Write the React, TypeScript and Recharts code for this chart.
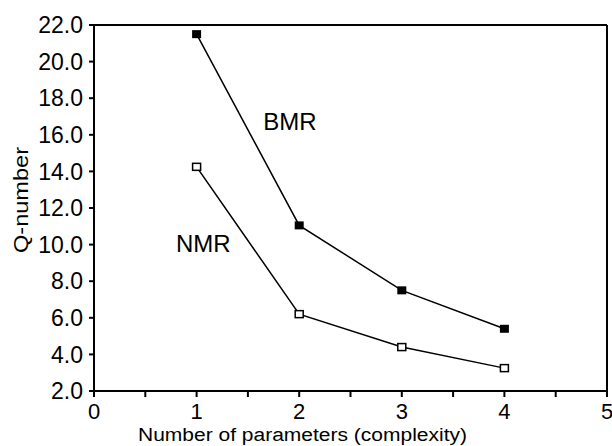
import { LineChart, Line, XAxis, YAxis, ReferenceLine, ReferenceDot } from "recharts";

const params = [1, 2, 3, 4];
const bmr = [21.5, 11.05, 7.5, 5.4];
const nmr = [14.25, 6.2, 4.4, 3.25];
const xTicks = [0, 0.5, 1, 1.5, 2, 2.5, 3, 3.5, 4, 4.5, 5];
const yTicks = [2, 4, 6, 8, 10, 12, 14, 16, 18, 20, 22];
const notes = [
  { name: "BMR", x: 1.91, y: 16.75 },
  { name: "NMR", x: 1.065, y: 10.05 },
];

const data = params.map((p, i) => ({ p, bmr: bmr[i], nmr: nmr[i] }));
const font = "'Liberation Sans', Arial, sans-serif";

const FilledSquare = (props: any) => {
  const { cx, cy } = props;
  if (cx == null || cy == null) return null;
  return <rect x={cx - 4.5} y={cy - 4} width={9} height={8} fill="#000" />;
};

const HollowSquare = (props: any) => {
  const { cx, cy } = props;
  if (cx == null || cy == null) return null;
  return <rect x={cx - 4} y={cy - 3.5} width={8} height={7} fill="#fff" stroke="#000" strokeWidth={1.5} />;
};

export default function App() {
  return (
    <div style={{ position: "absolute", left: 0, top: 0, background: "#fff" }}>
      <LineChart width={612} height={446} data={data} margin={{ top: 25, right: 5, left: 0, bottom: 0 }}>
        <XAxis
          dataKey="p"
          type="number"
          domain={[0, 5]}
          ticks={xTicks}
          interval={0}
          tickFormatter={(v) => (v % 1 === 0 ? String(v) : "")}
          height={55}
          tickSize={6}
          tickMargin={6}
          axisLine={{ stroke: "#000", strokeWidth: 2 }}
          tickLine={{ stroke: "#000", strokeWidth: 2 }}
          tick={{ fill: "#000", fontSize: 22, fontFamily: font }}
          label={{
            content: ({ viewBox }: any) => (
              <text
                x={viewBox.x + viewBox.width / 2 - 48}
                y={viewBox.y + 50}
                textAnchor="middle"
                fontSize={18}
                fontFamily={font}
                fill="#000"
                textLength={329}
                lengthAdjust="spacingAndGlyphs"
              >
                Number of parameters (complexity)
              </text>
            ),
          }}
        />
        <YAxis
          type="number"
          domain={[2, 22]}
          ticks={yTicks}
          interval={0}
          tickFormatter={(v) => v.toFixed(1)}
          width={94}
          tickSize={5}
          tickMargin={6}
          axisLine={{ stroke: "#000", strokeWidth: 2 }}
          tickLine={{ stroke: "#000", strokeWidth: 2 }}
          tick={{ fill: "#000", fontSize: 23, fontFamily: font }}
          label={{
            content: ({ viewBox }: any) => {
              const cx = 21;
              const cy = viewBox.y + viewBox.height / 2 - 8;
              return (
                <text
                  x={cx}
                  y={cy}
                  transform={`rotate(-90, ${cx}, ${cy})`}
                  textAnchor="middle"
                  dominantBaseline="central"
                  fontSize={20}
                  fontFamily={font}
                  fill="#000"
                  textLength={106}
                  lengthAdjust="spacingAndGlyphs"
                >
                  Q-number
                </text>
              );
            },
          }}
        />
        <ReferenceLine y={22} stroke="#000" strokeWidth={2} />
        <ReferenceLine x={5} stroke="#000" strokeWidth={2} />
        <Line
          dataKey="bmr"
          stroke="#000"
          strokeWidth={1.5}
          dot={<FilledSquare />}
          activeDot={false}
          isAnimationActive={false}
        />
        <Line
          dataKey="nmr"
          stroke="#000"
          strokeWidth={1.5}
          dot={<HollowSquare />}
          activeDot={false}
          isAnimationActive={false}
        />
        {notes.map((n) => (
          <ReferenceDot
            key={n.name}
            x={n.x}
            y={n.y}
            r={0}
            fill="none"
            stroke="none"
            label={{ value: n.name, position: "center", fontSize: 24, fontFamily: font, fill: "#000" }}
          />
        ))}
      </LineChart>
    </div>
  );
}
